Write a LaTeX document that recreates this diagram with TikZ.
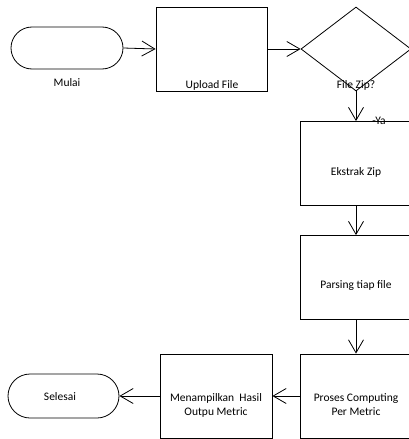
\documentclass[tikz,border=0pt]{standalone}
\usepackage{fontspec}
\setmainfont{Carlito}
\usetikzlibrary{arrows.meta,shapes.geometric}
\begin{document}
\begin{tikzpicture}[x=1pt,y=-1pt,
  line width=0.8pt,
  every node/.append style={font=\fontsize{11.5}{14}\selectfont},
  term/.style={draw,rounded corners=21pt,inner sep=0pt},
  procbox/.style={draw,inner sep=0pt,minimum width=112pt,minimum height=84pt},
  decis/.style={draw,diamond,inner sep=0pt,minimum width=110pt,minimum height=84pt},
  lbl/.style={inner sep=0pt,align=center},
  flow/.style={-{Straight Barb[length=13pt,width=15pt,line width=0.8pt]}}]
\useasboundingbox (0,0) rectangle (408,439);
% shapes
\node[term,minimum width=112pt,minimum height=42pt] (mulai) at (67,48) {};
\node[procbox,minimum width=111pt] (upload) at (211.5,49) {};
\node[decis] (zip) at (356,49) {};
\node[procbox] (ekstrak) at (356,163.5) {};
\node[procbox] (parsing) at (356,277.5) {};
\node[procbox] (proses) at (356,396) {};
\node[procbox] (tampil) at (216,396) {};
\node[term,rounded corners=22pt,minimum width=111pt,minimum height=44pt] (selesai) at (63.5,396) {};
% labels
\node[lbl] (tmulai) at (67,83) {Mulai};
\node[lbl] (tupload) at (212,85) {Upload File};
\node[lbl] (tzip) at (356,85) {File Zip?};
\node[lbl] (tya) at (379,121) {-Ya};
\node[lbl] (tekstrak) at (356,172) {Ekstrak Zip};
\node[lbl] (tparsing) at (356,285) {Parsing tiap file};
\node[lbl] (tproses) at (356,405) {Proses Computing\\Per Metric};
\node[lbl] (ttampil) at (216,405) {Menampilkan~~Hasil\\Outpu Metric};
\node[lbl] (tselesai) at (60,397) {Selesai};
% connectors
\draw[flow] (mulai.east) -- (upload.west);
\draw[flow] (upload.east) -- (zip.west);
\draw[flow] (zip.south) -- (ekstrak.north);
\draw[flow] (ekstrak.south) -- (parsing.north);
\draw[flow] (parsing.south) -- (proses.north);
\draw[flow] (proses.west) -- (tampil.east);
\draw[flow] (tampil.west) -- (selesai.east);
\end{tikzpicture}
\end{document}
